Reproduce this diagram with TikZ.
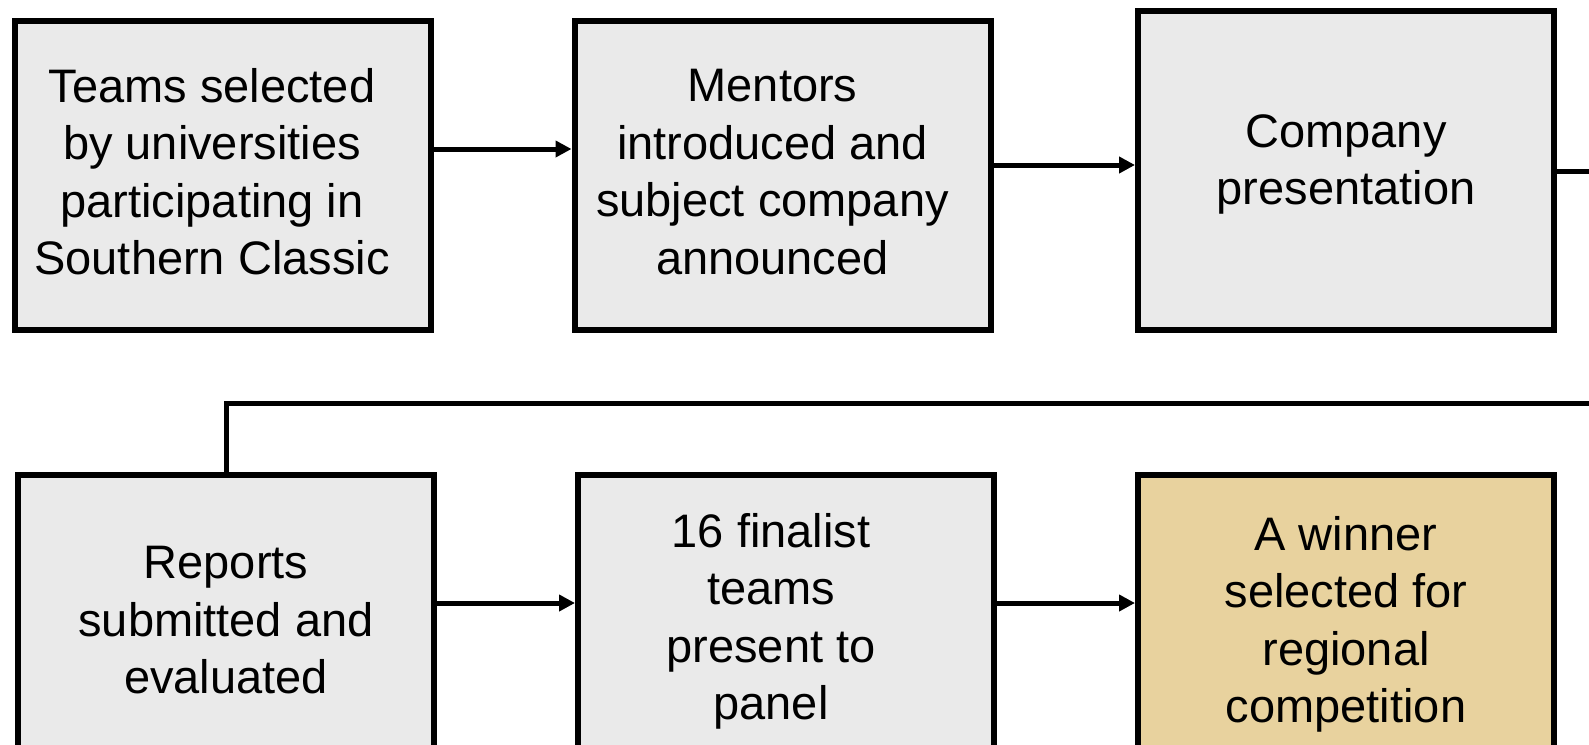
\documentclass[tikz,border=0pt]{standalone}
\usepackage{fontspec}
\setmainfont{Liberation Sans}
\usetikzlibrary{arrows.meta}
\definecolor{granite}{HTML}{EAEAEA}
\definecolor{papyrus}{HTML}{E8D29E}
\begin{document}
\begin{tikzpicture}[x=1pt,y=-1pt,
  box/.style={draw=black, line width=6pt, minimum width=416pt, inner sep=0pt},
  lbl/.style={align=center, anchor=north, inner sep=0pt, font=\fontsize{47}{57.5}\selectfont},
  conn/.style={line width=5pt},
  arr/.style={conn, -{Triangle[length=16pt,width=16pt]}}]
\useasboundingbox (0,0) rectangle (1589,744);
% boxes
\node[box, fill=granite, minimum height=309pt] (b1) at (222.5,175.5) {};
\node[box, fill=granite, minimum height=309pt] (b2) at (782.5,175.5) {};
\node[box, fill=granite, minimum height=319pt] (b3) at (1346,170.5) {};
\node[box, fill=granite, minimum height=282pt] (b4) at (226,616) {};
\node[box, fill=granite, minimum height=282pt] (b5) at (786,616) {};
\node[box, fill=papyrus, minimum height=282pt] (b6) at (1346,616) {};
% labels
\node[lbl] (t1) at (212,68) {Teams selected\\by universities\\participating in\\Southern Classic};
\node[lbl] (t2) at (772.5,69) {Mentors\\introduced and\\subject company\\announced};
\node[lbl] (t3) at (1346,114) {Company\\presentation};
\node[lbl] (t4) at (226,546) {Reports\\submitted and\\evaluated};
\node[lbl] (t5) at (771,513) {16 finalist\\teams\\present to\\panel};
\node[lbl] (t6) at (1346,516) {A winner\\selected for\\regional\\competition};
% connectors
\coordinate (r1) at (0,149);
\coordinate (r2) at (0,165);
\coordinate (r3) at (0,171);
\coordinate (r4) at (0,603);
\coordinate (loop) at (1620,403);
\draw[arr] (b1.east |- r1) -- (b2.west |- r1);
\draw[arr] (b2.east |- r2) -- (b3.west |- r2);
\draw[conn] (b3.east |- r3) -| (loop) -| (b4.north);
\draw[arr] (b4.east |- r4) -- (b5.west |- r4);
\draw[arr] (b5.east |- r4) -- (b6.west |- r4);
\end{tikzpicture}
\end{document}
